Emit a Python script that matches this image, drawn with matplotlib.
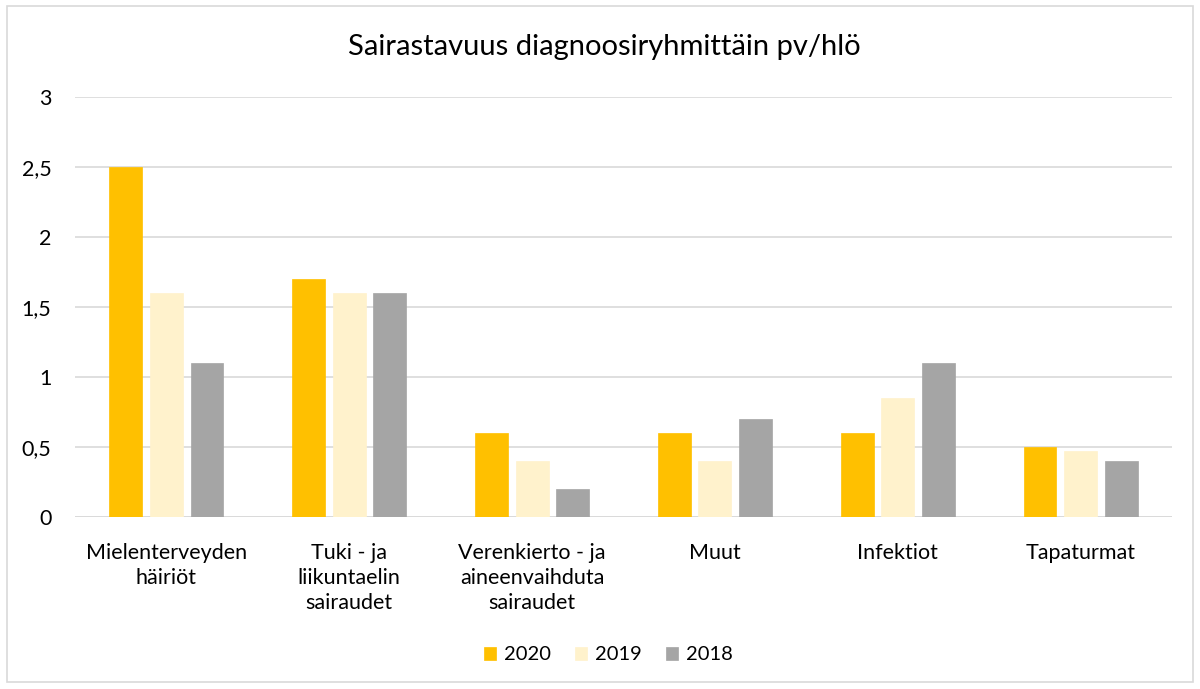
import matplotlib
matplotlib.use("Agg")
import matplotlib.pyplot as plt
import numpy as np
from matplotlib.patches import Rectangle

categories = ["Mielenterveyden\nhäiriöt", "Tuki - ja\nliikuntaelin\nsairaudet",
              "Verenkierto - ja\naineenvaihduta\nsairaudet", "Muut", "Infektiot", "Tapaturmat"]
series_names = ["2020", "2019", "2018"]
v2020 = [2.5, 1.7, 0.6, 0.6, 0.6, 0.5]
v2019 = [1.6, 1.6, 0.4, 0.4, 0.85, 0.47]
v2018 = [1.1, 1.6, 0.2, 0.7, 1.1, 0.4]
colors = ["#FFC000", "#FFF2CC", "#A5A5A5"]
yticks = [0, 0.5, 1, 1.5, 2, 2.5, 3]
ytick_labels = ["0", "0,5", "1", "1,5", "2", "2,5", "3"]
title = "Sairastavuus diagnoosiryhmittäin pv/hlö"

plt.rcParams['font.family'] = ['Lato', 'DejaVu Sans']

fig = plt.figure(figsize=(12, 6.89), dpi=100)
fig.patches.append(Rectangle((7/1200, 7/689), 1186/1200, 676/689, transform=fig.transFigure,
                             fill=False, edgecolor="#D9D9D9", linewidth=1.2))
ax = fig.add_axes([75/1200, 1-517/689, 1097/1200, 420/689])

x = np.arange(len(categories))
w = 0.18
step = 0.222
for i, (vals, name, c) in enumerate(zip([v2020, v2019, v2018], series_names, colors)):
    ax.bar(x + (i-1)*step, vals, width=w, color=c, label=name, zorder=3,
           edgecolor=c, linewidth=0.5)

ax.set_xlim(-0.5, len(categories)-0.5)
ax.set_ylim(0, 3)
ax.set_yticks(yticks)
ax.set_yticklabels(ytick_labels, fontsize=15.5)
ax.set_xticks(x)
ax.set_xticklabels(categories, fontsize=15.5, linespacing=1.3, va="top")
ax.tick_params(axis="both", length=0, colors="#000000")
ax.tick_params(axis="y", pad=17)
ax.tick_params(axis="x", pad=19)
ax.grid(axis="y", color="#D9D9D9", linewidth=1.2, zorder=0)
for s in ["top", "right", "left", "bottom"]:
    ax.spines[s].set_visible(False)
ax.axhline(0, color="#D9D9D9", linewidth=1.2, zorder=2)

fig.text(0.504, 1-47/689, title, ha="center", va="center", fontsize=21)
leg = fig.legend(loc="center", bbox_to_anchor=(0.507, 1-655/689), ncol=3, frameon=False,
                 fontsize=14.5, handlelength=0.6, handleheight=0.6, handletextpad=0.4,
                 columnspacing=1.2)

fig.savefig("out.png", dpi=100)
